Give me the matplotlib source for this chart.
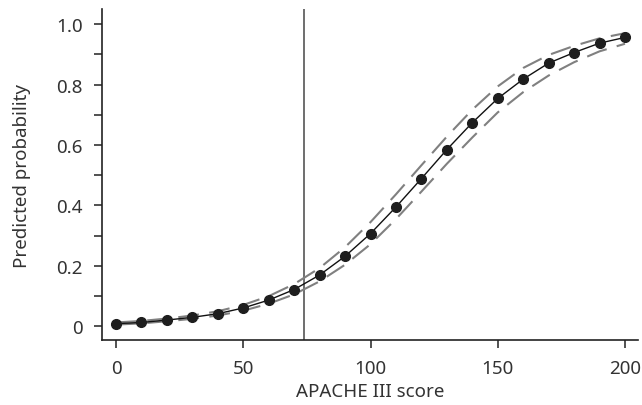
import matplotlib
matplotlib.use("Agg")
import matplotlib.pyplot as plt
from matplotlib.ticker import MultipleLocator

plt.rcParams['font.family'] = ['Noto Sans', 'DejaVu Sans']

apache = [0, 10, 20, 30, 40, 50, 60, 70, 80, 90, 100, 110, 120, 130, 140, 150, 160, 170, 180, 190, 200]
prob = [0.009, 0.013, 0.021, 0.030, 0.042, 0.061, 0.087, 0.122, 0.170, 0.232, 0.307,
        0.395, 0.489, 0.585, 0.674, 0.754, 0.818, 0.871, 0.906, 0.937, 0.956]
upper = [0.013, 0.018, 0.026, 0.036, 0.050, 0.071, 0.100, 0.140, 0.193, 0.262, 0.345,
         0.437, 0.533, 0.628, 0.717, 0.794, 0.855, 0.898, 0.928, 0.953, 0.970]
lower = [0.006, 0.010, 0.017, 0.025, 0.036, 0.052, 0.075, 0.106, 0.149, 0.204, 0.272,
         0.355, 0.446, 0.538, 0.625, 0.708, 0.775, 0.830, 0.874, 0.910, 0.935]
cutoff = 74
yticks = [0, 0.2, 0.4, 0.6, 0.8, 1.0]
yticklabels = ["0", "0.2", "0.4", "0.6", "0.8", "1.0"]
xticks = [0, 50, 100, 150, 200]

W, H = 642, 406
fig = plt.figure(figsize=(W / 100, H / 100), dpi=100)
ax = fig.add_axes([102 / W, (H - 341) / H, (638 - 102) / W, (341 - 10) / H])

txt = '#333333'
ax.plot(apache, upper, color='#808080', lw=1.5, dashes=(10, 5), zorder=2)
ax.plot(apache, lower, color='#808080', lw=1.5, dashes=(10, 5), zorder=2)
ax.plot(apache, prob, color='#111111', lw=1.0, marker='o', ms=7,
        mfc='#1e1e1e', mec='#1e1e1e', zorder=3)
ax.axvline(cutoff, color='#555555', lw=1.2, zorder=1)

ax.set_xlim(-5.5, 205.1)
ax.set_ylim(-0.045, 1.05)
ax.set_xticks(xticks)
ax.set_yticks(yticks)
ax.set_yticklabels(yticklabels)
ax.yaxis.set_minor_locator(MultipleLocator(0.1))

for s in ['top', 'right']:
    ax.spines[s].set_visible(False)
for s in ['left', 'bottom']:
    ax.spines[s].set_color('#222222')
    ax.spines[s].set_linewidth(1.2)

ax.tick_params(which='both', direction='out', length=6, width=1.1, color='#222222',
               labelsize=13.5, labelcolor=txt)
ax.tick_params(axis='y', which='minor', length=6)
ax.tick_params(axis='x', pad=8)
ax.tick_params(axis='y', pad=8)

ax.set_xlabel("APACHE III score", fontsize=13.5, color=txt, labelpad=3)
ax.set_ylabel("Predicted probability", fontsize=13.5, color=txt, labelpad=18)

fig.savefig("out.png", dpi=100)
